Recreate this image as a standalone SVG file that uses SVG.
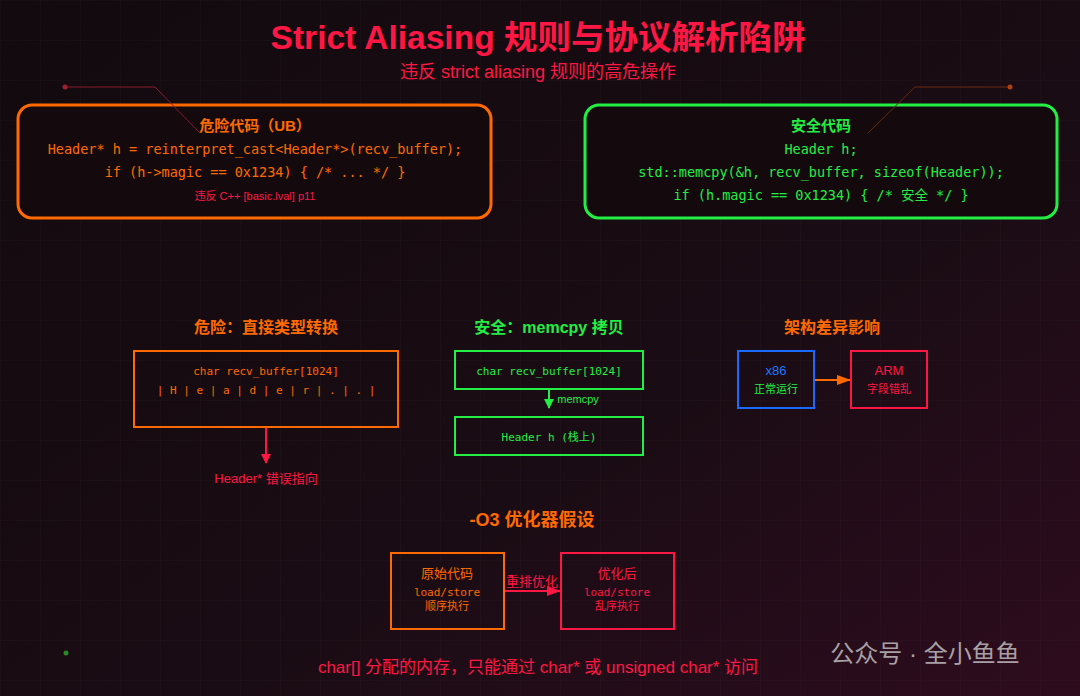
<svg xmlns="http://www.w3.org/2000/svg" width="1080" height="696" viewBox="0 0 1080 696">
<defs>
<linearGradient id="bg" x1="0" y1="0" x2="1" y2="1"><stop offset="0" stop-color="#120a0e"/><stop offset="0.6" stop-color="#1a0c14"/><stop offset="1" stop-color="#2e0c1e"/></linearGradient>
<pattern id="grid" width="40" height="40" patternUnits="userSpaceOnUse"><path d="M40 0H0V40" fill="none" stroke="#ffffff" stroke-opacity="0.03"/></pattern>
<marker id="aR" markerWidth="10" markerHeight="10" refX="9" refY="5" orient="auto" markerUnits="userSpaceOnUse"><path d="M0,0L10,5L0,10z" fill="#ff1744"/></marker>
<marker id="aG" markerWidth="10" markerHeight="10" refX="9" refY="5" orient="auto" markerUnits="userSpaceOnUse"><path d="M0,0L10,5L0,10z" fill="#22ee44"/></marker>
<marker id="aO" markerWidth="14" markerHeight="10" refX="13" refY="5" orient="auto" markerUnits="userSpaceOnUse"><path d="M0,0L14,5L0,10z" fill="#ff6a00"/></marker>
<marker id="aR2" markerWidth="14" markerHeight="10" refX="13" refY="5" orient="auto" markerUnits="userSpaceOnUse"><path d="M0,0L14,5L0,10z" fill="#ff1744"/></marker>
</defs>
<style>
text{font-family:"Liberation Sans","Noto Sans CJK SC",sans-serif;text-anchor:middle}
.m{font-family:"DejaVu Sans Mono","Noto Sans CJK SC",monospace}
.o{fill:#ff6a00}.g{fill:#22ee44}.r{fill:#ff1744}
.b{font-weight:bold}
</style>
<rect width="1080" height="696" fill="url(#bg)"/>
<rect width="1080" height="696" fill="url(#grid)"/>
<text x="538" y="49" class="r b" font-size="33.5">Strict Aliasing 规则与协议解析陷阱</text>
<text x="538" y="78" class="r" font-size="18">违反 strict aliasing 规则的高危操作</text>
<g id="danger-code">
<rect x="18" y="105" width="473" height="113" rx="14" fill="#140a0e" stroke="#ff6a00" stroke-width="3"/>
<text x="255" y="131" class="o b" font-size="15">危险代码（UB）</text>
<text x="255" y="154" class="o m" font-size="13.5">Header* h = reinterpret_cast&lt;Header*&gt;(recv_buffer);</text>
<text x="255" y="177" class="o m" font-size="13.5">if (h-&gt;magic == 0x1234) { /* ... */ }</text>
<text x="255" y="200" class="r" font-size="11">违反 C++ [basic.lval] p11</text>
</g>
<g id="safe-code">
<rect x="585" y="105" width="472" height="113" rx="14" fill="#140a0e" stroke="#22ee44" stroke-width="3"/>
<text x="821" y="131" class="g b" font-size="15">安全代码</text>
<text x="821" y="154" class="g m" font-size="13.5">Header h;</text>
<text x="821" y="177" class="g m" font-size="13.5">std::memcpy(&amp;h, recv_buffer, sizeof(Header));</text>
<text x="821" y="200" class="g m" font-size="13.5">if (h.magic == 0x1234) { /* 安全 */ }</text>
</g>
<g fill="none" stroke-width="1">
<path d="M65,87H155L200,133" stroke="#8a1a30"/><circle cx="65" cy="87" r="2.5" fill="#a02030" stroke="none"/>
<path d="M1010,87H915L868,133" stroke="#6a2a10"/><circle cx="1010" cy="87" r="2.5" fill="#b04010" stroke="none"/>
</g>
<text x="266" y="333" class="o b" font-size="16">危险：直接类型转换</text>
<text x="549" y="333" class="g b" font-size="16">安全：memcpy 拷贝</text>
<text x="832" y="333" class="o b" font-size="16">架构差异影响</text>
<text x="532" y="526" class="o b" font-size="18">-O3 优化器假设</text>
<g id="buffer">
<rect x="134" y="351" width="264" height="76" fill="none" stroke="#ff6a00" stroke-width="2"/>
<text x="266" y="375" class="o m" font-size="11">char recv_buffer[1024]</text>
<text x="266" y="394" class="o m" font-size="11">| H | e | a | d | e | r | . | . |</text>
</g>
<text x="266" y="483" class="r" font-size="13">Header* 错误指向</text>
<g id="src-buf"><rect x="455" y="351" width="188" height="38" fill="none" stroke="#22ee44" stroke-width="2"/>
<text x="549" y="375" class="g m" font-size="11">char recv_buffer[1024]</text></g>
<g id="dst-h"><rect x="455" y="417" width="188" height="38" fill="none" stroke="#22ee44" stroke-width="2"/>
<text x="549" y="441" class="g m" font-size="11">Header h (栈上)</text></g>
<text x="578" y="403" class="g" font-size="11">memcpy</text>
<g id="x86"><rect x="738" y="351" width="76" height="57" fill="none" stroke="#1a6aff" stroke-width="2"/>
<text x="776" y="375" fill="#1a7aff" font-size="13">x86</text>
<text x="776" y="393" class="g" font-size="11">正常运行</text></g>
<g id="arm"><rect x="851" y="351" width="76" height="57" fill="none" stroke="#ff1744" stroke-width="2"/>
<text x="889" y="375" class="r" font-size="13">ARM</text>
<text x="889" y="393" class="r" font-size="11">字段错乱</text></g>
<g id="orig"><rect x="391" y="553" width="113" height="76" fill="none" stroke="#ff6a00" stroke-width="2"/>
<text x="447" y="578" class="o" font-size="13">原始代码</text>
<text x="447" y="596" class="o m" font-size="11">load/store</text>
<text x="447" y="610" class="o" font-size="11">顺序执行</text></g>
<g id="opt"><rect x="561" y="553" width="113" height="76" fill="none" stroke="#ff1744" stroke-width="2"/>
<text x="617" y="578" class="r" font-size="13">优化后</text>
<text x="617" y="596" class="r m" font-size="11">load/store</text>
<text x="617" y="610" class="r" font-size="11">乱序执行</text></g>
<text x="532" y="586" class="r" font-size="13">重排优化</text>
<g id="connectors" fill="none" stroke-width="2">
<path d="M266,428V463" stroke="#ff1744" marker-end="url(#aR)"/>
<path d="M549,390V408" stroke="#22ee44" marker-end="url(#aG)"/>
<path d="M815,380H850" stroke="#ff6a00" marker-end="url(#aO)"/>
<path d="M505,591H560" stroke="#ff1744" marker-end="url(#aR2)"/>
</g>
<text x="538" y="673" class="r" font-size="17">char[] 分配的内存，只能通过 char* 或 unsigned char* 访问</text>
<circle cx="66" cy="653" r="2.5" fill="#2a8a2a"/>
<text x="925" y="662" fill="#a8a0a4" font-size="24">公众号 · 全小鱼鱼</text>
</svg>
